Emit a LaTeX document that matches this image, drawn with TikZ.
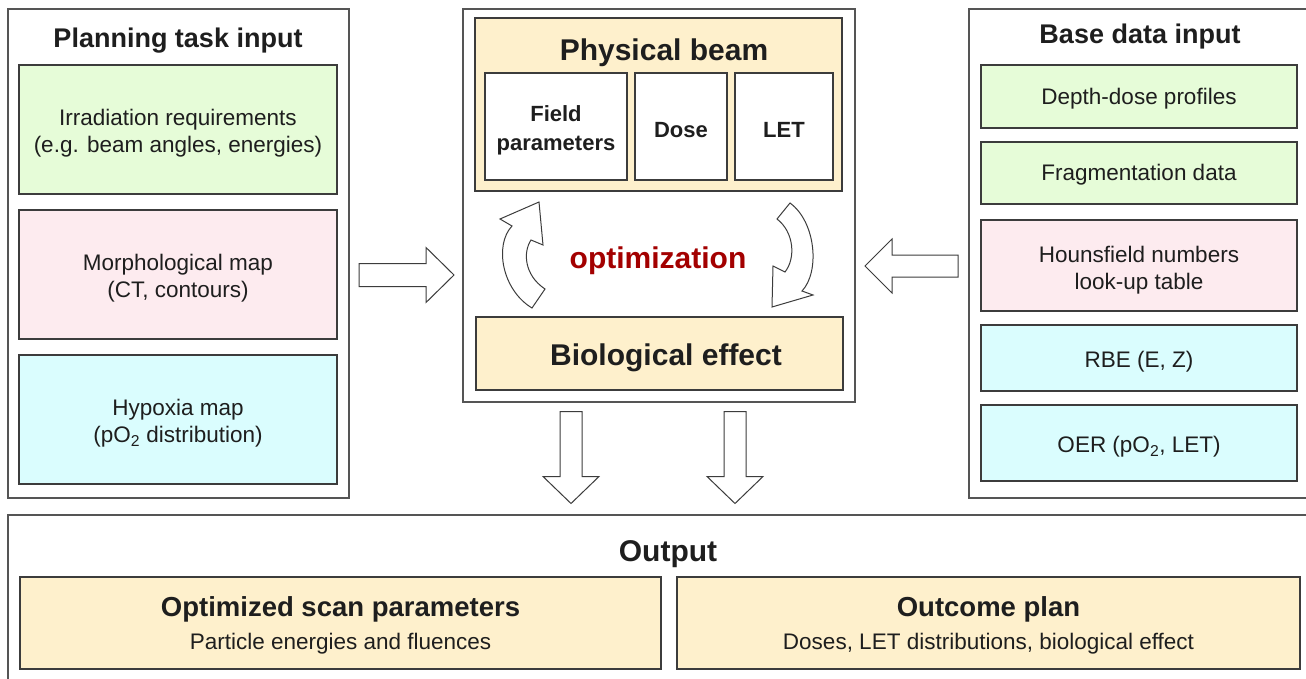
\documentclass[tikz,border=0pt]{standalone}
\usepackage{fontspec}
\setmainfont{Liberation Sans}
\newcommand\fsz[2]{\fontsize{#1}{#2}\selectfont}
\definecolor{txt}{HTML}{1E1E1E}
\definecolor{edge}{HTML}{3C3C3C}
\definecolor{frame}{HTML}{555555}
\definecolor{fillgreen}{HTML}{E6FCD8}
\definecolor{fillpink}{HTML}{FDEBEF}
\definecolor{fillcyan}{HTML}{DAFDFE}
\definecolor{fillyellow}{HTML}{FEF0CC}
\definecolor{optred}{HTML}{A30000}
\tikzset{
  panel/.style={draw=frame, line width=1.4pt, fill=white, inner sep=0pt},
  cell/.style={draw=edge, line width=1.2pt, inner sep=0pt},
  celltext/.style={inner sep=0pt, align=center, text=txt, font=\fsz{22.5}{27}, yshift=-4pt},
  boldtext/.style={celltext, font=\bfseries\fsz{22}{29}},
  heading/.style={inner sep=0pt, text=txt, font=\bfseries\fsz{27}{32}},
  bigheading/.style={inner sep=0pt, text=txt, font=\bfseries\fsz{30}{34}},
  blockarrow/.style={draw=edge, line width=1pt, fill=white, line join=miter},
}
\begin{document}
\begin{tikzpicture}[x=1pt,y=-1pt]
\clip (0,0) rectangle (1306,679);
\fill[white] (0,0) rectangle (1306,679);

% ---- planning task input ----
\node[panel, minimum width=341pt, minimum height=489pt] (plan) at (178.5,253.5) {};
\node[heading] (planT) at (178,41) {Planning task input};
\node[cell, fill=fillgreen, minimum width=318pt, minimum height=129pt,
  label={[celltext]center:{Irradiation requirements\\(e.g. beam angles, energies)}}] (irr) at (178,129.5) {};
\node[cell, fill=fillpink, minimum width=318pt, minimum height=129pt,
  label={[celltext]center:{Morphological map\\(CT, contours)}}] (morph) at (178,274.5) {};
\node[cell, fill=fillcyan, minimum width=318pt, minimum height=129pt,
  label={[celltext]center:{Hypoxia map\\(pO\textsubscript{2} distribution)}}] (hyp) at (178,419.5) {};

% ---- optimization core ----
\node[panel, minimum width=392pt, minimum height=393pt] (core) at (659,205.5) {};
\node[cell, fill=fillyellow, minimum width=367pt, minimum height=173pt] (phys) at (658.5,104.5) {};
\node[bigheading] (physT) at (664,53) {Physical beam};
\node[cell, fill=white, minimum width=142pt, minimum height=107pt,
  label={[boldtext]center:{Field\\parameters}}] (field) at (556,126.5) {};
\node[cell, fill=white, minimum width=92pt, minimum height=107pt,
  label={[boldtext]center:Dose}] (dose) at (681,126.5) {};
\node[cell, fill=white, minimum width=98pt, minimum height=107pt,
  label={[boldtext, yshift=1pt]center:LET}] (let) at (784,126.5) {};
\node[cell, fill=fillyellow, minimum width=367pt, minimum height=73pt] (bio) at (659.5,353.5) {};
\node[bigheading] (bioT) at (666,358) {Biological effect};
\node[bigheading, text=optred] (opt) at (658,261) {optimization};

% curved loop arrows
\draw[blockarrow] (532,308) .. controls (502,290) and (494,245) .. (512,226)
  -- (500,219) -- (539,202) -- (543,245) -- (531,240)
  .. controls (523,252) and (524,275) .. (545,289) -- cycle;
\draw[blockarrow] (790,203) .. controls (816,222) and (820,272) .. (802,291)
  -- (813,295) -- (772,307) -- (773,266) -- (785,272)
  .. controls (796,258) and (794,232) .. (777,219) -- cycle;

% ---- base data input ----
\node[panel, minimum width=351pt, minimum height=489pt] (base) at (1144.5,253.5) {};
\node[heading] (baseT) at (1140,37) {Base data input};
\node[cell, fill=fillgreen, minimum width=316pt, minimum height=63pt,
  label={[celltext, yshift=2pt]center:Depth-dose profiles}] (depth) at (1139,96.5) {};
\node[cell, fill=fillgreen, minimum width=316pt, minimum height=62pt,
  label={[celltext, yshift=2pt]center:Fragmentation data}] (frag) at (1139,173) {};
\node[cell, fill=fillpink, minimum width=316pt, minimum height=91pt,
  label={[celltext, yshift=-1pt]center:{Hounsfield numbers\\look-up table}}] (hu) at (1139,265.5) {};
\node[cell, fill=fillcyan, minimum width=316pt, minimum height=66pt,
  label={[celltext]center:{RBE (E, Z)}}] (rbe) at (1139,358) {};
\node[cell, fill=fillcyan, minimum width=316pt, minimum height=76pt,
  label={[celltext]center:{OER (pO\textsubscript{2}, LET)}}] (oer) at (1139,443) {};

% ---- output ----
\node[panel, minimum width=1312pt, minimum height=200pt] (out) at (664,615) {};
\node[bigheading] (outT) at (668,554) {Output};
\node[cell, fill=fillyellow, minimum width=641pt, minimum height=92pt,
  label={[celltext, yshift=2pt]center:{{\bfseries\fsz{27.5}{32}Optimized scan parameters}\\[6pt]Particle energies and fluences}}]
  (scan) at (340.5,623) {};
\node[cell, fill=fillyellow, minimum width=623pt, minimum height=92pt,
  label={[celltext, yshift=2pt]center:{{\bfseries\fsz{27.5}{32}Outcome plan}\\[6pt]Doses, LET distributions, biological effect}}]
  (result) at (988.5,623) {};

% ---- block arrows between panels ----
\draw[blockarrow] (359,263.5) -- (426,263.5) -- (426,247.5) -- (454,275) -- (426,302.5)
  -- (426,286.5) -- (359,286.5) -- cycle;
\draw[blockarrow] (958,255) -- (892,255) -- (892,239) -- (865,266) -- (892,293)
  -- (892,277) -- (958,277) -- cycle;
\draw[blockarrow] (560,411.5) -- (582,411.5) -- (582,476.5) -- (599,476.5) -- (571,503.5)
  -- (543,476.5) -- (560,476.5) -- cycle;
\draw[blockarrow] (724,411.5) -- (746,411.5) -- (746,476.5) -- (763,476.5) -- (735,503.5)
  -- (707,476.5) -- (724,476.5) -- cycle;
\end{tikzpicture}
\end{document}
